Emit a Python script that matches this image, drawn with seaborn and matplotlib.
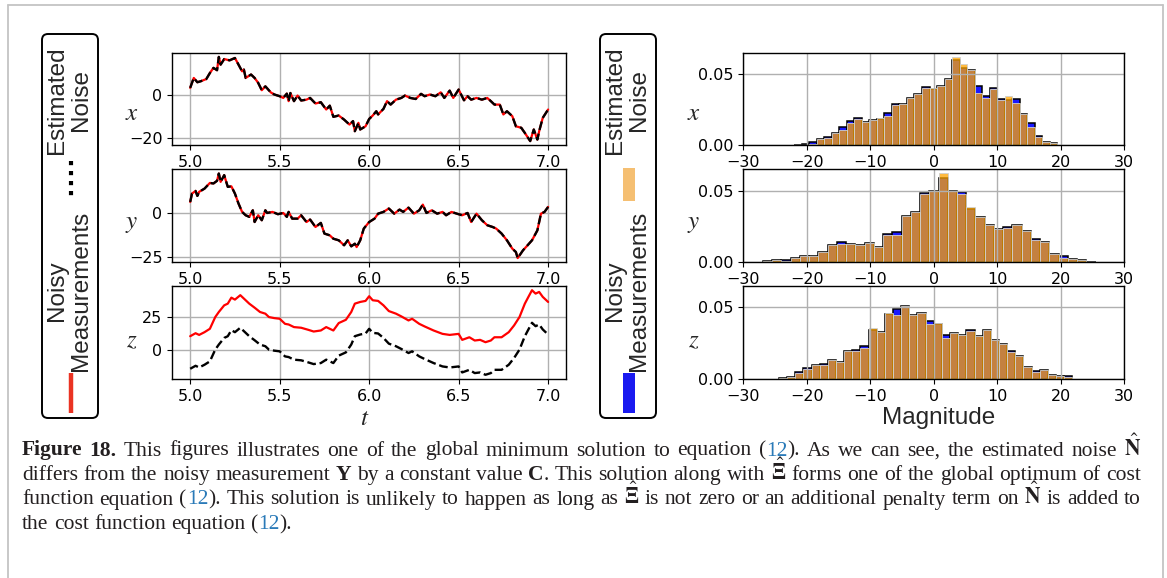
import re
import numpy as np
import pandas as pd
import matplotlib
matplotlib.use("Agg")
import matplotlib.pyplot as plt
import seaborn as sns
from matplotlib.patches import FancyBboxPatch, Rectangle
from matplotlib.ticker import FormatStrFormatter
from matplotlib.text import Text

# ---------------- time series: noisy measurements ----------------
t_x = [5.00, 5.02, 5.04, 5.06, 5.09, 5.11, 5.13, 5.15, 5.16, 5.17, 5.19, 5.22, 5.25, 5.27, 5.29,
       5.30, 5.31, 5.34, 5.36, 5.38, 5.40, 5.42, 5.45, 5.47, 5.50, 5.52, 5.54, 5.55, 5.56, 5.58,
       5.60, 5.62, 5.65, 5.67, 5.70, 5.73, 5.76, 5.78, 5.80, 5.83, 5.86, 5.89, 5.91, 5.92, 5.94,
       5.95, 5.98, 6.00, 6.02, 6.04, 6.05, 6.08, 6.10, 6.12, 6.15, 6.18, 6.20, 6.23, 6.26, 6.29,
       6.31, 6.34, 6.37, 6.40, 6.42, 6.45, 6.47, 6.50, 6.53, 6.55, 6.57, 6.60, 6.63, 6.66, 6.68,
       6.70, 6.73, 6.75, 6.77, 6.80, 6.82, 6.85, 6.87, 6.90, 6.92, 6.94, 6.95, 6.97, 7.00]
x_meas = [3.3, 7.9, 5.9, 6.4, 7.4, 10.2, 12.6, 11.5, 17.7, 14.1, 16.7, 16.1, 17.2, 14.1, 11.0,
          11.8, 7.9, 9.5, 7.9, 5.6, 2.2, 4.0, 1.2, 0.2, -0.6, -1.4, 0.6, -2.9, 0.9, -2.9,
          -0.3, -2.6, -2.2, -1.4, -4.0, -3.4, -6.8, -5.0, -10.2, -9.6, -11.5, -13.8, -12.2, -16.9, -13.0,
          -16.1, -14.6, -11.2, -9.6, -7.6, -9.1, -6.5, -2.9, -4.5, -2.2, -1.4, -0.3, -1.4, -1.9, 0.5,
          -0.6, 0.2, -0.6, 1.2, -1.4, 2.0, -1.4, 2.5, -2.5, -0.6, -2.2, -1.4, -2.2, -1.4, -2.9,
          -4.5, -4.5, -9.1, -7.6, -9.9, -14.6, -15.3, -17.7, -21.5, -16.1, -20.8, -16.9, -10.7, -6.8]

t_y = [5.00, 5.01, 5.03, 5.04, 5.05, 5.08, 5.11, 5.13, 5.15, 5.16, 5.17, 5.19, 5.21, 5.23, 5.25,
       5.27, 5.29, 5.31, 5.33, 5.35, 5.36, 5.38, 5.40, 5.42, 5.43, 5.46, 5.49, 5.52, 5.54, 5.55,
       5.57, 5.60, 5.62, 5.65, 5.67, 5.70, 5.73, 5.75, 5.78, 5.80, 5.83, 5.86, 5.88, 5.90, 5.92,
       5.93, 5.95, 5.97, 6.00, 6.03, 6.05, 6.08, 6.11, 6.14, 6.17, 6.19, 6.22, 6.25, 6.28, 6.30,
       6.32, 6.35, 6.38, 6.41, 6.43, 6.46, 6.49, 6.52, 6.55, 6.57, 6.60, 6.63, 6.66, 6.69, 6.71,
       6.74, 6.77, 6.80, 6.82, 6.83, 6.86, 6.88, 6.91, 6.94, 6.96, 6.98, 7.00]
y_meas = [6.0, 10.7, 12.2, 9.4, 11.7, 13.5, 16.7, 16.4, 17.9, 22.0, 17.3, 21.1, 14.5, 14.8, 10.7,
          5.1, 0.4, -1.5, -2.4, 1.3, -5.3, -1.5, -4.3, 1.3, -0.2, 0.4, -0.9, -0.2, -2.4, 0.4,
          -3.4, -3.4, -1.5, -5.3, -3.9, -8.1, -5.8, -11.8, -12.8, -14.7, -15.6, -18.4, -15.6, -19.0, -17.5,
          -19.4, -15.6, -9.0, -5.3, -3.4, -0.6, 0.4, 2.3, -0.6, 1.7, 0.4, 2.8, -0.6, 1.3, 4.5,
          -0.2, 1.3, -0.6, 0.4, -1.5, 0.4, -0.6, -1.5, -0.2, -5.3, -0.6, -4.3, -7.1, -8.1, -9.0,
          -11.8, -15.6, -20.3, -22.2, -25.6, -21.2, -19.0, -15.6, -10.0, -0.6, 0.4, 3.2]

t_z = [5.00, 5.03, 5.05, 5.08, 5.11, 5.14, 5.16, 5.19, 5.21, 5.23, 5.25, 5.28, 5.30, 5.33, 5.36,
       5.39, 5.42, 5.44, 5.47, 5.50, 5.53, 5.55, 5.58, 5.62, 5.66, 5.69, 5.73, 5.76, 5.80, 5.83,
       5.87, 5.90, 5.92, 5.95, 5.98, 6.00, 6.02, 6.05, 6.08, 6.11, 6.15, 6.18, 6.22, 6.24, 6.28,
       6.31, 6.36, 6.41, 6.45, 6.50, 6.52, 6.56, 6.59, 6.62, 6.65, 6.68, 6.70, 6.74, 6.78, 6.81,
       6.84, 6.87, 6.89, 6.91, 6.93, 6.95, 6.97, 7.00]
z_meas = [10.3, 12.6, 11.3, 13.4, 16.0, 25.0, 28.9, 34.0, 35.3, 39.9, 38.4, 41.8, 39.2, 35.3, 32.2,
          28.9, 27.6, 25.0, 24.2, 23.7, 19.8, 19.3, 17.3, 16.8, 15.2, 13.9, 14.7, 17.3, 14.7, 20.4,
          22.9, 28.9, 35.3, 36.6, 37.4, 41.0, 37.9, 37.4, 34.0, 29.6, 27.6, 25.5, 22.4, 23.7, 19.8,
          17.8, 14.7, 12.1, 11.3, 12.1, 7.5, 9.5, 7.0, 7.5, 5.7, 7.0, 9.5, 9.5, 13.4, 18.6,
          25.0, 35.3, 40.5, 45.6, 43.0, 44.3, 40.5, 36.6]

# constant shift C between estimated noise and measurement, per state
shift_C = [0.0, 0.0, 25.0]

# ---------------- histograms (density per bin) ----------------
x_bin_start, x_bin_width = -21.96, 1.1825
x_hist_meas = [0.0005, 0.0010, 0.0021, 0.0042, 0.0056, 0.0087, 0.0129, 0.0171, 0.0190, 0.0164,
               0.0180, 0.0188, 0.0228, 0.0291, 0.0289, 0.0331, 0.0362, 0.0406, 0.0394, 0.0416,
               0.0465, 0.0600, 0.0542, 0.0530, 0.0418, 0.0343, 0.0399, 0.0324, 0.0320, 0.0326,
               0.0221, 0.0157, 0.0068, 0.0026, 0.0014]
x_hist_est = [0.0005, 0.0005, 0.0012, 0.0045, 0.0051, 0.0087, 0.0108, 0.0160, 0.0185, 0.0164,
              0.0180, 0.0190, 0.0209, 0.0280, 0.0292, 0.0335, 0.0362, 0.0404, 0.0404, 0.0416,
              0.0465, 0.0620, 0.0573, 0.0528, 0.0366, 0.0330, 0.0396, 0.0315, 0.0347, 0.0296,
              0.0221, 0.0131, 0.0056, 0.0026, 0.0014]

y_bin_start, y_bin_width = -26.9, 1.455
y_hist_meas = [0.0007, 0.0019, 0.0014, 0.0030, 0.0042, 0.0042, 0.0069, 0.0118, 0.0139, 0.0130,
               0.0118, 0.0137, 0.0109, 0.0199, 0.0215, 0.0322, 0.0354, 0.0481, 0.0500, 0.0590,
               0.0495, 0.0492, 0.0373, 0.0319, 0.0262, 0.0230, 0.0245, 0.0262, 0.0222, 0.0160,
               0.0141, 0.0060, 0.0042, 0.0023, 0.0014, 0.0005]
y_hist_est = [0.0007, 0.0019, 0.0010, 0.0030, 0.0042, 0.0042, 0.0069, 0.0118, 0.0130, 0.0130,
              0.0118, 0.0137, 0.0109, 0.0194, 0.0192, 0.0322, 0.0354, 0.0476, 0.0500, 0.0626,
              0.0495, 0.0476, 0.0384, 0.0315, 0.0262, 0.0230, 0.0238, 0.0262, 0.0222, 0.0153,
              0.0141, 0.0060, 0.0032, 0.0023, 0.0014, 0.0005]

z_bin_start, z_bin_width = -24.38, 1.283
z_hist_meas = [0.0005, 0.0016, 0.0046, 0.0076, 0.0100, 0.0102, 0.0132, 0.0118, 0.0199, 0.0201,
               0.0229, 0.0345, 0.0326, 0.0456, 0.0490, 0.0507, 0.0447, 0.0460, 0.0403, 0.0382,
               0.0306, 0.0320, 0.0305, 0.0340, 0.0298, 0.0345, 0.0275, 0.0243, 0.0199, 0.0164,
               0.0086, 0.0056, 0.0063, 0.0028, 0.0021, 0.0021]
z_hist_est = [0.0005, 0.0016, 0.0044, 0.0072, 0.0100, 0.0097, 0.0132, 0.0118, 0.0199, 0.0199,
              0.0220, 0.0359, 0.0326, 0.0461, 0.0444, 0.0507, 0.0447, 0.0460, 0.0382, 0.0391,
              0.0285, 0.0320, 0.0305, 0.0333, 0.0298, 0.0340, 0.0275, 0.0243, 0.0192, 0.0164,
              0.0086, 0.0049, 0.0063, 0.0028, 0.0021, 0.0014]

state_labels = ["x", "y", "z"]
series_t = [t_x, t_y, t_z]
series_meas = [x_meas, y_meas, z_meas]
hist_bins = [(x_bin_start, x_bin_width), (y_bin_start, y_bin_width), (z_bin_start, z_bin_width)]
hist_meas = [x_hist_meas, y_hist_meas, z_hist_meas]
hist_est = [x_hist_est, y_hist_est, z_hist_est]
ts_yticks = [[-20, 0], [-25, 0], [0, 25]]
time_ticks = [5.0, 5.5, 6.0, 6.5, 7.0]
mag_ticks = [-30, -20, -10, 0, 10, 20, 30]

# caption: **bold**, [link-coloured], $math$
caption_lines = [
    r"**Figure** **18.** This figures illustrates one of the global minimum solution to equation ([12]). "
    r"As we can see, the estimated noise $\hat{\mathbf{N}}$",
    r"differs from the noisy measurement **Y** by a constant value **C**. This solution along with "
    r"$\hat{\mathbf{\Xi}}$ forms one of the global optimum of cost",
    r"function equation ([12]). This solution is unlikely to happen as long as $\hat{\mathbf{\Xi}}$ "
    r"is not zero or an additional penalty term on $\hat{\mathbf{N}}$ is added to",
    r"the cost function equation ([12]).",
]

# ---------------- style ----------------
sns.set_style("ticks")
plt.rcParams.update({
    "font.family": ["DejaVu Sans"],
    "mathtext.fontset": "stix",
    "axes.edgecolor": "black",
    "axes.linewidth": 1.0,
    "xtick.color": "black",
    "ytick.color": "black",
    "xtick.labelsize": 11.5,
    "ytick.labelsize": 11.5,
    "xtick.major.size": 3.5,
    "ytick.major.size": 3.5,
})

W, H = 1167, 578
fig = plt.figure(figsize=(W / 100, H / 100), dpi=100)
fig.patch.set_facecolor("white")

# full-figure overlay in pixel units (y down) for page frame, legends and caption
over = fig.add_axes([0, 0, 1, 1])
over.set_xlim(0, W)
over.set_ylim(H, 0)
over.axis("off")
over.patch.set_visible(False)


def px_axes(left, top, right, bottom):
    return fig.add_axes([left / W, 1 - bottom / H, (right - left) / W, (bottom - top) / H])


rows = [(52.7, 145.3), (169.3, 262.3), (286.0, 379.0)]
grid_kw = dict(color="#b0b0b0", linewidth=1.0)

MEAS_RED = "red"
HIST_BLUE = "#0000ff"
HIST_ORANGE = "orange"

for i, (top, bottom) in enumerate(rows):
    # --- time series ---
    ax = px_axes(172.3, top, 566.0, bottom)
    t = np.asarray(series_t[i])
    meas = np.asarray(series_meas[i])
    est = meas - shift_C[i]
    sns.lineplot(x=t, y=meas, ax=ax, color=MEAS_RED, linewidth=1.6, estimator=None, sort=False)
    sns.lineplot(x=t, y=est, ax=ax, color="black", linewidth=1.7, linestyle="--",
                 estimator=None, sort=False)
    ax.set_xlim(4.9, 7.1)
    lo = min(meas.min(), est.min())
    hi = max(meas.max(), est.max())
    pad = 0.05 * (hi - lo)
    ax.set_ylim(lo - pad, hi + pad)
    ax.set_xticks(time_ticks)
    ax.xaxis.set_major_formatter(FormatStrFormatter("%.1f"))
    ax.set_yticks(ts_yticks[i])
    ax.grid(True, **grid_kw)
    ax.set_axisbelow("line")
    ax.set_xlabel("")
    ax.set_ylabel("")
    for s in ax.spines.values():
        s.set_visible(True)
        s.set_color("black")

    # --- histograms ---
    hx = px_axes(743.3, top, 1124.3, bottom)
    start, width = hist_bins[i]
    n = len(hist_meas[i])
    centers = start + width * (np.arange(n) + 0.5)
    df = pd.DataFrame({"magnitude": centers,
                       "meas": np.asarray(hist_meas[i], dtype=float),
                       "est": np.asarray(hist_est[i], dtype=float)})
    hist_range = (start, start + n * width)
    sns.histplot(data=df, x="magnitude", weights="meas", bins=n, binrange=hist_range,
                 stat="count", ax=hx, color=HIST_BLUE, alpha=0.9, edgecolor="black", linewidth=1.1)
    sns.histplot(data=df, x="magnitude", weights="est", bins=n, binrange=hist_range,
                 stat="count", ax=hx, color=HIST_ORANGE, alpha=0.75, edgecolor="#d0d0d0", linewidth=0.6)
    hx.set_xlim(-30, 30)
    hx.set_ylim(0, 0.065)
    hx.set_xticks(mag_ticks)
    hx.set_yticks([0.0, 0.05])
    hx.yaxis.set_major_formatter(FormatStrFormatter("%.2f"))
    hx.grid(True, **grid_kw)
    hx.set_axisbelow("line")
    hx.set_xlabel("")
    hx.set_ylabel("")
    for s in hx.spines.values():
        s.set_visible(True)
        s.set_color("black")

    # italic state labels
    label_y = [113, 223, 340][i]
    over.text(132, label_y, "$%s$" % state_labels[i], fontsize=18, ha="center", va="center")
    over.text(694, label_y, "$%s$" % state_labels[i], fontsize=18, ha="center", va="center")

over.text(365, 418, "$t$", fontsize=18, ha="center", va="center")
over.text(939, 418, "Magnitude", fontsize=17.5, family="Liberation Sans", ha="center", va="center")

# ---------------- page frame ----------------
frame_c = "#c4c4c4"
over.plot([7.5, 7.5], [H + 5, 4.5], color=frame_c, lw=1.3, clip_on=False)
over.plot([1162.5, 1162.5], [H + 5, 4.5], color=frame_c, lw=1.3, clip_on=False)
over.plot([7.5, 1162.5], [4.5, 4.5], color=frame_c, lw=1.3, clip_on=False)

# ---------------- rotated legends ----------------
leg_font = dict(fontsize=17.5, family="Liberation Sans", rotation=90, ha="center", va="center",
                multialignment="center", linespacing=1.15)
for bx in (42, 600):
    over.add_patch(FancyBboxPatch((bx, 34), 56, 384, boxstyle="round,pad=0,rounding_size=6",
                                  fc="white", ec="black", lw=1.4))
    over.text(bx + 27, 291, "Noisy\nMeasurements", **leg_font)
    over.text(bx + 27, 100, "Estimated\nNoise", **leg_font)

over.plot([70.5, 70.5], [373, 413], color="#ea3323", lw=3.2, solid_capstyle="butt")
over.plot([70.5, 70.5], [161, 201], color="black", lw=3.0, dashes=(1.0, 1.4), dash_capstyle="butt")
over.add_patch(Rectangle((623, 168), 12, 33, fc="#f5bf72", ec="none"))
over.add_patch(Rectangle((623, 373), 12, 40, fc="#1a1af0", ec="none"))

# ---------------- caption (justified) ----------------
renderer = fig.canvas.get_renderer()
cap_size = 15.5
cap_left, cap_right = 22.0, 1141.0


def seg_props(kind):
    p = dict(fontsize=cap_size, family="Liberation Serif", color="#231f20")
    if kind == "b":
        p["fontweight"] = "bold"
    if kind == "l":
        p["color"] = "#2a7ab8"
    return p


def measure(s, kind):
    if kind == "m":
        tmp = Text(0, 0, s, **seg_props(kind))
        tmp.set_figure(fig)
        return tmp.get_window_extent(renderer).width
    a = Text(0, 0, "|" + s + "|", **seg_props(kind))
    b = Text(0, 0, "||", **seg_props(kind))
    a.set_figure(fig)
    b.set_figure(fig)
    return a.get_window_extent(renderer).width - b.get_window_extent(renderer).width


def parse_word(word):
    pieces = []
    for part in re.split(r"(\*\*.+?\*\*|\[.+?\]|\$.+?\$)", word):
        if not part:
            continue
        if part.startswith("**"):
            pieces.append((part[2:-2], "b"))
        elif part.startswith("["):
            pieces.append((part[1:-1], "l"))
        elif part.startswith("$"):
            pieces.append((part, "m"))
        else:
            pieces.append((part, "n"))
    return pieces


space_w = measure(" ", "n")
baselines = [455.5, 480.0, 504.5, 529.0]
for li, (line, yb) in enumerate(zip(caption_lines, baselines)):
    words = [parse_word(w) for w in line.split(" ")]
    widths = [[measure(s, k) for s, k in w] for w in words]
    total = sum(sum(ws) for ws in widths)
    if li < len(caption_lines) - 1:
        gap = (cap_right - cap_left - total) / (len(words) - 1)
    else:
        gap = space_w
    xc = cap_left
    for w, ws in zip(words, widths):
        for (s, k), wd in zip(w, ws):
            over.text(xc, yb, s, ha="left", va="baseline", **seg_props(k))
            xc += wd
        xc += gap

fig.savefig("out.png", dpi=100, facecolor="white")
